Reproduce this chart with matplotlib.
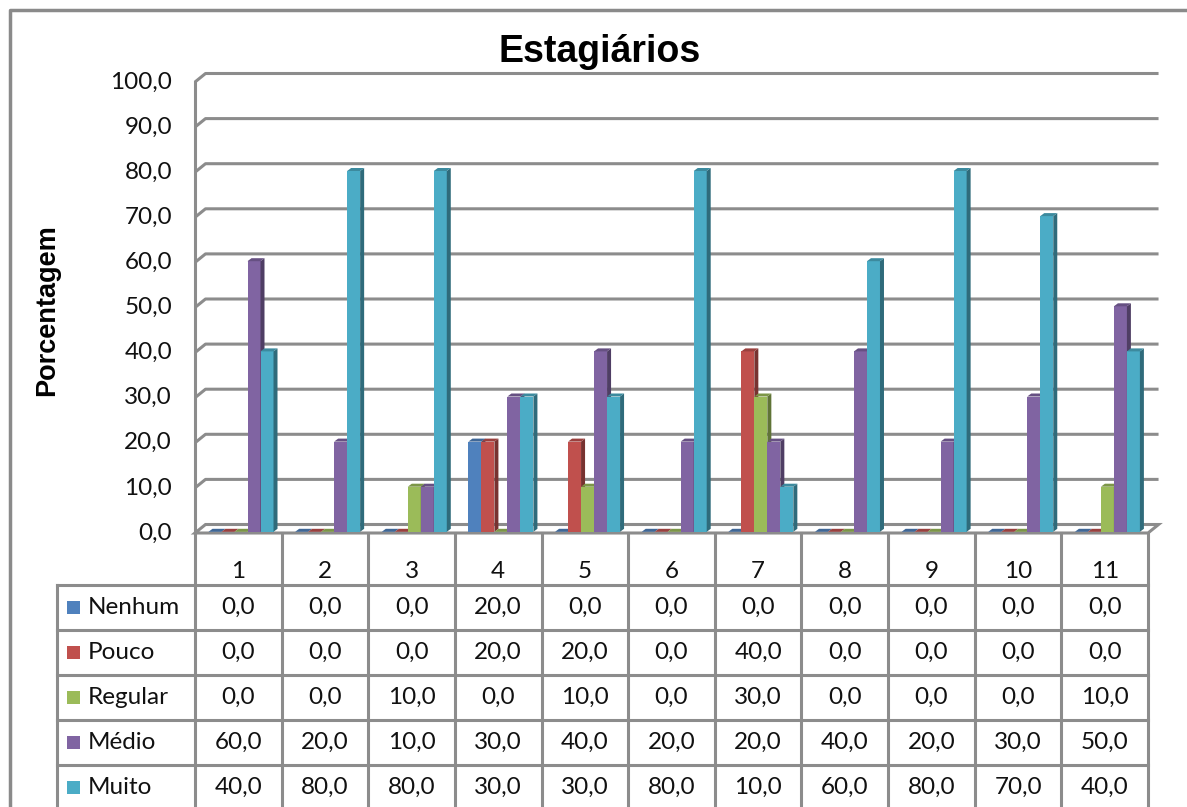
import matplotlib
matplotlib.use("Agg")
import matplotlib.pyplot as plt
from matplotlib.patches import Polygon, Rectangle
from matplotlib.lines import Line2D
import numpy as np

# Survey answers per question (percentages)
categories = ["1", "2", "3", "4", "5", "6", "7", "8", "9", "10", "11"]
series_names = ["Nenhum", "Pouco", "Regular", "Médio", "Muito"]
nenhum = [0, 0, 0, 20, 0, 0, 0, 0, 0, 0, 0]
pouco = [0, 0, 0, 20, 20, 0, 40, 0, 0, 0, 0]
regular = [0, 0, 10, 0, 10, 0, 30, 0, 0, 0, 10]
medio = [60, 20, 10, 30, 40, 20, 20, 40, 20, 30, 50]
muito = [40, 80, 80, 30, 30, 80, 10, 60, 80, 70, 40]
yticks = np.arange(0, 101, 10)

front_colors = ["#4F81BD", "#C0504D", "#9BBB59", "#8064A2", "#4BACC6"]
series = [nenhum, pouco, regular, medio, muito]

GRID = "#8c8c8c"
FONT = "Lato"
FS = 17.5
TXT = "#111111"


def shade(hex_color, f):
    rgb = np.array(matplotlib.colors.to_rgb(hex_color))
    return tuple(rgb * f)


def fmt(v):
    return f"{v:.1f}".replace(".", ",")


# figure size in pixels and the pixel layout of the plot floor / columns
W, H = 1187, 807
X0, Y0 = 195, 533          # left edge and floor of the front plane
COLW, UNIT = 86.64, 4.51   # px per category, px per percent

fig = plt.figure(figsize=(W / 100, H / 100), dpi=100)
ax = fig.add_axes([0, 0, 1, 1])
ax.set_xlim(-X0 / COLW, (W - X0) / COLW)
ax.set_ylim(-(H - Y0) / UNIT, Y0 / UNIT)
ax.axis("off")

n = len(categories)
DX, DY = 10.5 / COLW, 8.5 / UNIT        # wall depth
BW = 13.0 / COLW                         # bar width
BSTART = 13.5 / COLW                     # gap before first bar
BDY = 1.2 / UNIT                         # bars sit slightly behind the front
SDX, SDY = 4.0 / COLW, 3.0 / UNIT        # bar depth (side/top faces)

# back wall gridlines with the little chamfer at the left wall
for v in yticks[1:]:
    ax.plot([0, DX, n + DX], [v, v + DY, v + DY], color=GRID, lw=2.2,
            solid_capstyle="butt", zorder=1)
for v in yticks:
    ax.text(-23 / COLW, v, fmt(v), ha="right", va="center",
            fontsize=FS, family=FONT, color=TXT)

# floor and left axis
floor = Polygon([(0, 0), (n, 0), (n + DX, DY), (DX, DY)], closed=True,
                facecolor="white", edgecolor=GRID, lw=2.2, zorder=1)
ax.add_patch(floor)
ax.plot([0, 0], [0, 100], color=GRID, lw=2.2, zorder=1)

# 3d-looking columns
for i in range(n):
    for k, vals in enumerate(series):
        v = vals[i]
        x = i + BSTART + k * BW
        z = 2 + i * 10 + k
        ax.bar(x, v, width=BW, bottom=BDY, align="edge",
               color=front_colors[k], edgecolor="none", zorder=z)
        top = v + BDY
        side = Polygon([(x + BW, BDY), (x + BW + SDX, BDY + SDY),
                        (x + BW + SDX, top + SDY), (x + BW, top)],
                       closed=True, facecolor=shade(front_colors[k], 0.62),
                       edgecolor="none", zorder=z)
        cap = Polygon([(x, top), (x + BW, top), (x + BW + SDX, top + SDY),
                       (x + SDX, top + SDY)],
                      closed=True, facecolor=shade(front_colors[k], 0.8),
                      edgecolor="none", zorder=z)
        ax.add_patch(side)
        ax.add_patch(cap)

# data table below the plot
HH = 52 / UNIT     # header row height
RH = 45 / UNIT     # body row height
LEG = -(X0 - 57) / COLW
bottom = -(HH + len(series) * RH)
for i in range(n + 1):
    ax.plot([i, i], [0, bottom], color=GRID, lw=2.2, zorder=1)
ax.plot([LEG, LEG], [-HH, bottom], color=GRID, lw=2.2, zorder=1)
for r in range(len(series) + 1):
    y = -HH - r * RH
    ax.plot([LEG, n], [y, y], color=GRID, lw=2.2, zorder=1)

for i, c in enumerate(categories):
    ax.text(i + 0.5, -38 / UNIT, c, ha="center", va="center",
            fontsize=FS, family=FONT, color=TXT)

for r, (name, vals) in enumerate(zip(series_names, series)):
    yc = -HH - (r + 0.5) * RH
    ax.add_patch(Rectangle((LEG + 10 / COLW, yc - 6.5 / UNIT), 13 / COLW,
                           13 / UNIT, facecolor=front_colors[r],
                           edgecolor="none", zorder=3))
    ax.text(LEG + 31 / COLW, yc, name, ha="left", va="center",
            fontsize=FS, family=FONT, color=TXT)
    for i, v in enumerate(vals):
        ax.text(i + 0.5, yc, fmt(v), ha="center", va="center",
                fontsize=FS, family=FONT, color=TXT)

fig.text(600 / W, 1 - 52 / H, "Estagiários", ha="center", va="center",
         fontsize=27, fontweight="bold", family="Liberation Sans")
fig.text(47 / W, 1 - 310 / H, "Porcentagem", ha="center", va="center",
         rotation=90, fontsize=19.5, fontweight="bold", family="Liberation Sans")

# chart border
fig.add_artist(Line2D([10 / W, 10 / W, 1], [0, 1 - 10 / H, 1 - 10 / H],
                      transform=fig.transFigure, color="#8a8a8a", lw=2.5))

fig.savefig("out.png", dpi=100)
